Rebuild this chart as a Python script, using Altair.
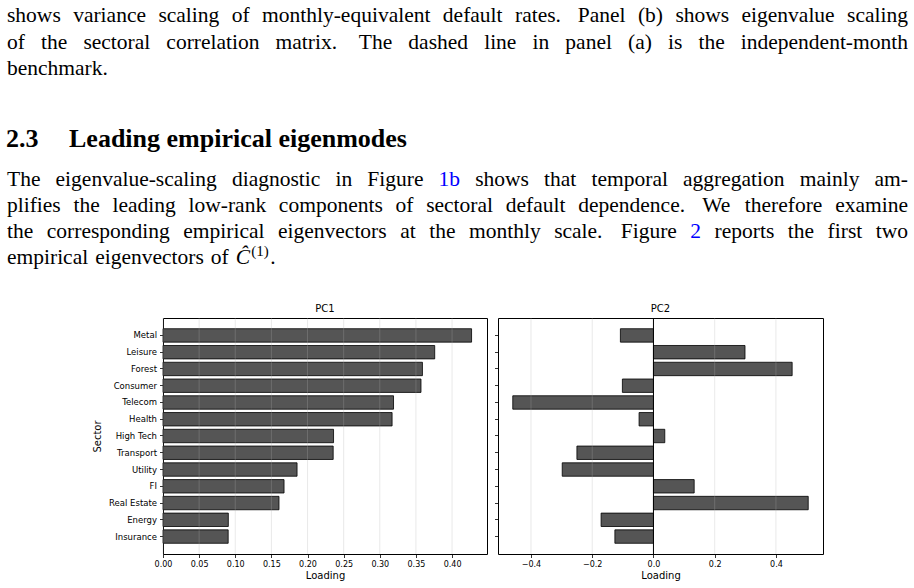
import altair as alt
import pandas as pd

# ---------------------------------------------------------------- data
sectors = ["Metal", "Leisure", "Forest", "Consumer", "Telecom", "Health",
           "High Tech", "Transport", "Utility", "FI", "Real Estate", "Energy", "Insurance"]
pc1 = [0.427, 0.376, 0.359, 0.357, 0.319, 0.317, 0.236, 0.2355, 0.1855,
       0.1675, 0.1605, 0.0904, 0.0902]
pc2 = [-0.108, 0.299, 0.453, -0.1015, -0.4595, -0.047, 0.037, -0.250, -0.298,
       0.133, 0.5055, -0.171, -0.126]
pc1_ticks = [0.00, 0.05, 0.10, 0.15, 0.20, 0.25, 0.30, 0.35, 0.40]
pc2_ticks = [-0.4, -0.2, 0.0, 0.2, 0.4]

para1 = [
    "shows variance scaling of monthly-equivalent default rates. Panel (b) shows eigenvalue scaling",
    "of the sectoral correlation matrix. The dashed line in panel (a) is the independent-month",
    "benchmark.",
]
heading_number = "2.3"
heading_text = "Leading empirical eigenmodes"
para2 = [
    "The eigenvalue-scaling diagnostic in Figure 1b shows that temporal aggregation mainly am-",
    "plifies the leading low-rank components of sectoral default dependence. We therefore examine",
    "the corresponding empirical eigenvectors at the monthly scale. Figure 2 reports the first two",
    "empirical eigenvectors of",
]
link_words = ["1b", "2"]
matrix_symbol = "\u0108"
matrix_sup = "(1)"

# ---------------------------------------------------------------- page layout
PLOT_X0, PLOT_Y0 = 162, 317        # top-left of the PC1 plot area on the page
W_A, W_B, H, GAP = 324, 325, 236, 11
TEXT_L, TEXT_R = 6, 907
FS = 21.5
LEAD = 26.3
P1_BASE, HEAD_BASE, P2_BASE = 21.3, 146, 184.5
SERIF = "Liberation Serif"
SANS = "DejaVu Sans"
LINK_BLUE = "#0000FF"

# Times-compatible advance widths (1/1000 em) for justifying lines
_w = {" ": 250, ".": 250, ",": 250, "-": 333, "(": 333, ")": 333, ":": 278}
_w.update({d: 500 for d in "0123456789"})
_w.update(dict(zip("abcdefghijklmnopqrstuvwxyz",
                   [444, 500, 444, 500, 444, 333, 500, 500, 278, 278, 500, 278, 778,
                    500, 500, 500, 500, 333, 389, 278, 500, 500, 722, 500, 500, 444])))
_w.update(dict(zip("ABCDEFGHIJKLMNOPQRSTUVWXYZ",
                   [722, 667, 667, 722, 611, 556, 722, 722, 333, 389, 722, 611, 889,
                    722, 722, 556, 722, 667, 556, 611, 722, 722, 944, 722, 722, 611])))


def text_width(s, fs):
    return sum(_w.get(c, 500) for c in s) * fs / 1000.0


def layout_line(line, base, justify):
    words = line.split(" ")
    widths = [text_width(w, FS) for w in words]
    weights = [1.35 if w.endswith(".") else 1.0 for w in words[:-1]]
    if justify and len(words) > 1:
        unit = ((TEXT_R - TEXT_L) - sum(widths)) / sum(weights)
    else:
        unit = text_width(" ", FS) * 1.3
    rows, x = [], TEXT_L
    for i, w in enumerate(words):
        rows.append({"word": w, "px": x - PLOT_X0, "py": base - PLOT_Y0,
                     "color": LINK_BLUE if w in link_words else "black"})
        x += widths[i]
        if i < len(words) - 1:
            x += unit * weights[i]
    return rows, x


word_rows = []
for k, line in enumerate(para1):
    rows, _ = layout_line(line, P1_BASE + k * LEAD, k < len(para1) - 1)
    word_rows += rows
end_x = 0
for k, line in enumerate(para2):
    rows, end_x = layout_line(line, P2_BASE + k * LEAD, k < len(para2) - 1)
    word_rows += rows
words_df = pd.DataFrame(word_rows)

last_base = P2_BASE + (len(para2) - 1) * LEAD
sym_x = end_x + text_width(" ", FS) * 1.3
sup_x = sym_x + 0.72 * FS
dot_x = sup_x + text_width(matrix_sup, FS * 0.7) + 1.5

heading_df = pd.DataFrame({
    "word": [heading_number, heading_text],
    "px": [5 - PLOT_X0, 68 - PLOT_X0],
    "py": [HEAD_BASE - PLOT_Y0] * 2,
})
sym_df = pd.DataFrame({"word": [matrix_symbol], "px": [sym_x - PLOT_X0], "py": [last_base - PLOT_Y0]})
sup_df = pd.DataFrame({"word": [matrix_sup], "px": [sup_x - PLOT_X0], "py": [last_base - 8 - PLOT_Y0]})
dot_df = pd.DataFrame({"word": ["."], "px": [dot_x - PLOT_X0], "py": [last_base - PLOT_Y0]})

# ---------------------------------------------------------------- chart pieces
df = pd.DataFrame({"sector": sectors, "pc1": pc1, "pc2": pc2})

axis_style = dict(labelFont=SANS, labelFontSize=8, labelColor="black",
                  tickColor="black", tickSize=3.5, tickWidth=0.8, domain=False,
                  grid=False, titleFont=SANS, titleFontSize=10,
                  titleFontWeight="normal", titleColor="black")

band = alt.Scale(paddingInner=0.2, paddingOuter=0.64)

pc1_dom = [0, max(pc1) * 1.05]
span2 = max(pc2) - min(pc2)
pc2_dom = [min(pc2) - 0.05 * span2, max(pc2) + 0.05 * span2]

scale_a = alt.Scale(domain=pc1_dom, nice=False, zero=True)
scale_b = alt.Scale(domain=pc2_dom, nice=False, zero=False)
axis_a = alt.Axis(values=pc1_ticks, format=".2f", title="Loading", labelPadding=2.5,
                  titlePadding=2, labelFlush=False, labelOverlap=False, **axis_style)
axis_b = alt.Axis(values=pc2_ticks, format=".1f", title="Loading", labelPadding=2.5,
                  titlePadding=2, labelFlush=False, labelOverlap=False, **axis_style)

bar_style = dict(fill="#555555", stroke="black", strokeWidth=0.8)
grid_style = dict(color="#b0b0b0", strokeOpacity=0.35, strokeWidth=0.8)


def text_layer(frame, size, **mark_kw):
    return alt.Chart(frame).mark_text(align="left", baseline="alphabetic",
                                      fontSize=size, **mark_kw).encode(
        text="word:N",
        x=alt.X("px:Q", scale=None),
        y=alt.Y("py:Q", scale=None),
    )


y_style = dict(axis_style, labelFontSize=8.5)
bars_a = alt.Chart(df).mark_bar(**bar_style).encode(
    x=alt.X("pc1:Q", scale=scale_a, axis=axis_a),
    y=alt.Y("sector:N", sort=sectors, scale=band,
            axis=alt.Axis(title="Sector", labelPadding=3, titlePadding=6, **y_style)),
)
grid_a = alt.Chart(pd.DataFrame({"pc1": pc1_ticks})).mark_rule(**grid_style).encode(
    x=alt.X("pc1:Q", scale=scale_a, axis=axis_a))
title_a = alt.Chart(pd.DataFrame({"t": ["PC1"]})).mark_text(
    font=SANS, fontSize=10, align="center", baseline="alphabetic", color="black").encode(
    text="t:N", x=alt.value(W_A / 2), y=alt.value(-6.5))

words_layer = alt.Chart(words_df).mark_text(
    align="left", baseline="alphabetic", font=SERIF, fontSize=FS).encode(
    text="word:N",
    x=alt.X("px:Q", scale=None),
    y=alt.Y("py:Q", scale=None),
    color=alt.Color("color:N", scale=None),
)
heading_layer = text_layer(heading_df, 26, font=SERIF, fontWeight="bold", color="black")
sym_layer = text_layer(sym_df, FS, font=SERIF, fontStyle="italic", color="black")
sup_layer = text_layer(sup_df, FS * 0.7, font=SERIF, color="black")
dot_layer = text_layer(dot_df, FS, font=SERIF, color="black")

# white hairline at the page corner keeps the page origin fixed
corner = alt.Chart(pd.DataFrame({"a": [0]})).mark_rule(color="white", strokeWidth=1).encode(
    x=alt.value(-PLOT_X0), y=alt.value(-PLOT_Y0), y2=alt.value(-PLOT_Y0 + 1))

panel_a = alt.layer(
    bars_a, grid_a, title_a, words_layer, heading_layer, sym_layer, sup_layer, dot_layer, corner
).properties(width=W_A, height=H)

bars_b = alt.Chart(df).mark_bar(**bar_style).encode(
    x=alt.X("pc2:Q", scale=scale_b, axis=axis_b),
    y=alt.Y("sector:N", sort=sectors, scale=band,
            axis=alt.Axis(labels=False, title=None, **axis_style)),
)
grid_b = alt.Chart(pd.DataFrame({"pc2": pc2_ticks})).mark_rule(**grid_style).encode(
    x=alt.X("pc2:Q", scale=scale_b, axis=axis_b))
zero_b = alt.Chart(pd.DataFrame({"pc2": [0.0]})).mark_rule(color="black", strokeWidth=1).encode(
    x=alt.X("pc2:Q", scale=scale_b, axis=axis_b))
title_b = alt.Chart(pd.DataFrame({"t": ["PC2"]})).mark_text(
    font=SANS, fontSize=10, align="center", baseline="alphabetic", color="black").encode(
    text="t:N", x=alt.value(W_B / 2), y=alt.value(-6.5))

panel_b = alt.layer(bars_b, grid_b, zero_b, title_b).properties(width=W_B, height=H)

chart = alt.hconcat(panel_a, panel_b, spacing=GAP, bounds="flush").properties(
    padding=0, background="white"
).configure_view(stroke="black", strokeWidth=1)

chart.save("out.html", embed_options={"renderer": "svg", "actions": False})
